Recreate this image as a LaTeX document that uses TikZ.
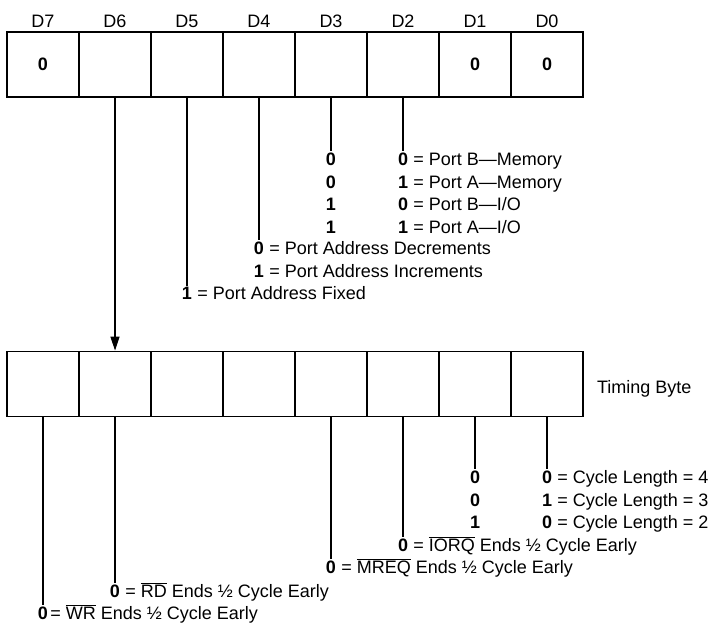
\documentclass[tikz,border=0pt]{standalone}
\usepackage{fontspec}
\setmainfont{Liberation Sans}
\usepackage{tikz}
\usetikzlibrary{positioning,arrows.meta}
\newcommand{\diafont}{\fontsize{18}{21}\selectfont}
\newcommand{\ovl}[1]{$\overline{\mbox{#1}}$}
\tikzset{
  bitcell/.style ={draw, rectangle, line width=1.9pt, minimum width=72pt, minimum height=65pt, inner sep=0pt, font=\diafont\bfseries},
  bitlbl/.style  ={inner sep=0pt, font=\diafont},
  dig/.style     ={inner sep=1pt, font=\diafont\bfseries},
  desc/.style    ={inner sep=0pt, font=\diafont},
  lead/.style    ={line width=1.1pt},
  arr/.style     ={-{Triangle[length=14pt, width=9pt]}, line width=1.1pt},
}

\begin{document}
\begin{tikzpicture}[x=1pt, y=-1pt]
  \useasboundingbox (0,0) rectangle (709,624);

  % Top register: mode byte with bit labels
  \foreach \b/\v [count=\k from 0] in {7/0,6/{},5/{},4/{},3/{},2/{},1/0,0/0} {
    \node[bitcell] (t\b) at ({43+72*\k},64.5) {\v};
    \node[bitlbl, above=3pt of t\b] (l\b) {D\b};
  }

  % D3/D2: port select
  \node[dig] (p3a) at (t3 |- 0,159) {0};
  \node[dig] (p3b) at (t3 |- 0,182) {0};
  \node[dig] (p3c) at (t3 |- 0,204) {1};
  \node[dig] (p3d) at (t3 |- 0,227) {1};
  \node[dig] (p2a) at (t2 |- 0,159) {0};
  \node[dig] (p2b) at (t2 |- 0,182) {1};
  \node[dig] (p2c) at (t2 |- 0,204) {0};
  \node[dig] (p2d) at (t2 |- 0,227) {1};
  \node[desc, right=4pt of p2a.base east, anchor=base west] {= Port B---Memory};
  \node[desc, right=4pt of p2b.base east, anchor=base west] {= Port A---Memory};
  \node[desc, right=4pt of p2c.base east, anchor=base west] {= Port B---I/O};
  \node[desc, right=4pt of p2d.base east, anchor=base west] {= Port A---I/O};

  % D4/D5: address mode
  \node[dig] (p4a) at (t4 |- 0,248) {0};
  \node[dig] (p4b) at (t4 |- 0,271) {1};
  \node[desc, right=4pt of p4a.base east, anchor=base west] {= Port Address Decrements};
  \node[desc, right=4pt of p4b.base east, anchor=base west] {= Port Address Increments};
  \node[dig] (p5a) at (t5 |- 0,293) {1};
  \node[desc, right=4pt of p5a.base east, anchor=base west] {= Port Address Fixed};

  \draw[lead] (t3) -- (p3a);
  \draw[lead] (t2) -- (p2a);
  \draw[lead] (t4) -- (p4a);
  \draw[lead] (t5) -- (p5a);

  % Bottom register: timing byte
  \foreach \b [count=\k from 0] in {7,...,0} {
    \node[bitcell] (b\b) at ({43+72*\k},384) {};
  }
  \node[desc, right=13pt of b0, anchor=west, yshift=-5pt] (tb) {Timing Byte};

  % D6 points down to the timing byte
  \draw[arr] (t6) -- (b6);

  % D1/D0: cycle length
  \node[dig] (c1a) at (b1 |- 0,477) {0};
  \node[dig] (c1b) at (b1 |- 0,500) {0};
  \node[dig] (c1c) at (b1 |- 0,522) {1};
  \node[dig] (c0a) at (b0 |- 0,477) {0};
  \node[dig] (c0b) at (b0 |- 0,500) {1};
  \node[dig] (c0c) at (b0 |- 0,522) {0};
  \node[desc, right=4pt of c0a.base east, anchor=base west] {= Cycle Length = 4};
  \node[desc, right=4pt of c0b.base east, anchor=base west] {= Cycle Length = 3};
  \node[desc, right=4pt of c0c.base east, anchor=base west] {= Cycle Length = 2};

  % D2, D3, D6, D7: early ends
  \node[dig] (c2a) at (b2 |- 0,545) {0};
  \node[desc, right=4pt of c2a.base east, anchor=base west] {= \ovl{IORQ} Ends ½ Cycle Early};
  \node[dig] (c3a) at (b3 |- 0,567) {0};
  \node[desc, right=4pt of c3a.base east, anchor=base west] {= \ovl{MREQ} Ends ½ Cycle Early};
  \node[dig] (c6a) at (b6 |- 0,591) {0};
  \node[desc, right=4pt of c6a.base east, anchor=base west] {= \ovl{RD} Ends ½ Cycle Early};
  \node[dig] (c7a) at (b7 |- 0,613) {0};
  \node[desc, right=1pt of c7a.base east, anchor=base west] {= \ovl{WR} Ends ½ Cycle Early};

  \draw[lead] (b1) -- (c1a);
  \draw[lead] (b0) -- (c0a);
  \draw[lead] (b2) -- (c2a);
  \draw[lead] (b3) -- (c3a);
  \draw[lead] (b6) -- (c6a);
  \draw[lead] (b7) -- (c7a);
\end{tikzpicture}
\end{document}
